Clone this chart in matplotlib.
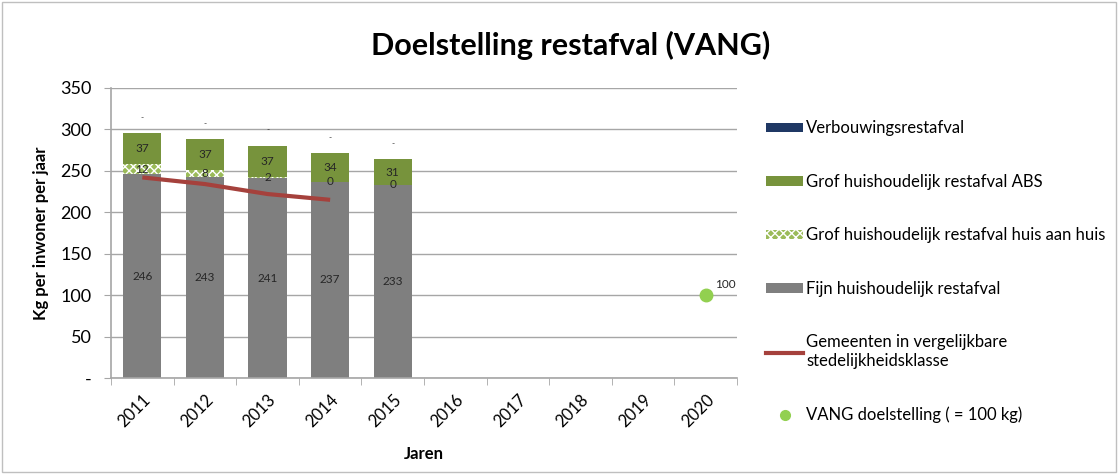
import numpy as np
import matplotlib.pyplot as plt
from matplotlib.patches import Patch, Rectangle
from matplotlib.lines import Line2D

plt.rcParams['font.family'] = ['Lato', 'DejaVu Sans']
plt.rcParams['hatch.linewidth'] = 1.0

# data
jaren = ['2011', '2012', '2013', '2014', '2015', '2016', '2017', '2018', '2019', '2020']
fijn = [246, 243, 241, 237, 233]
huis = [12, 8, 2, 0, 0]
abs_ = [37, 37, 37, 34, 31]
verbouw = [0, 0, 0, 0, 0]
gemeenten = [242, 234, 222, 215]
vang_jaar = '2020'
vang_waarde = 100

c_fijn = '#7f7f7f'
c_abs = '#77933c'
c_huis = '#9bbb59'
c_verb = '#1f3864'
c_lijn = '#a5413c'
c_vang = '#92d050'

fig = plt.figure(figsize=(11.18, 4.75), dpi=100)
ax = fig.add_axes([0.0993, 0.204, 0.560, 0.611])

x = np.arange(len(jaren))
n = len(fijn)
w = 0.61

# stacked bars
ax.bar(x[:n], fijn, w, color=c_fijn, zorder=2)
b_huis = np.array(fijn)
ax.bar(x[:n], huis, w, bottom=b_huis, color=c_huis, hatch='xxxx', edgecolor='white', linewidth=0, zorder=2)
b_abs = b_huis + np.array(huis)
ax.bar(x[:n], abs_, w, bottom=b_abs, color=c_abs, zorder=2)
b_verb = b_abs + np.array(abs_)
ax.bar(x[:n], verbouw, w, bottom=b_verb, color=c_verb, zorder=2)

# labels in de balken
fs = 8.5
for i in range(n):
    ax.text(x[i], fijn[i] / 2, str(fijn[i]), ha='center', va='center', fontsize=fs, color='#262626', zorder=4)
    ax.text(x[i], b_huis[i] + huis[i] / 2, str(huis[i]), ha='center', va='center', fontsize=fs, color='#262626', zorder=4)
    ax.text(x[i], b_abs[i] + abs_[i] / 2, str(abs_[i]), ha='center', va='center', fontsize=fs, color='#262626', zorder=4)
    ax.text(x[i], b_verb[i] + 19, '-', ha='center', va='center', fontsize=6, color='#262626', zorder=4)

# lijn gemeenten
ax.plot(x[:len(gemeenten)], gemeenten, color=c_lijn, linewidth=3, zorder=3, solid_capstyle='butt')

# VANG doelstelling
xv = jaren.index(vang_jaar)
ax.plot(xv, vang_waarde, 'o', color=c_vang, markersize=9, zorder=4)
ax.text(xv + 0.15, vang_waarde + 6, str(vang_waarde), fontsize=fs, color='#262626', va='bottom')

# assen
ax.set_xlim(-0.5, len(jaren) - 0.5)
ax.set_ylim(0, 350)
ax.set_yticks(np.arange(0, 351, 50))
ax.set_yticklabels(['-'] + [str(v) for v in range(50, 351, 50)], fontsize=13)
ax.set_xticks(x)
ax.set_xticklabels(jaren, rotation=45, fontsize=12, ha='right', rotation_mode='anchor')
ax.set_xticks(np.arange(-0.5, len(jaren), 1), minor=True)
ax.tick_params(axis='x', which='major', length=0, pad=10)
ax.tick_params(axis='x', which='minor', length=5, color='#a6a6a6')
ax.tick_params(axis='y', length=5, color='#a6a6a6', pad=9)
ax.grid(axis='y', color='#a6a6a6', linewidth=1, zorder=0)
ax.set_axisbelow(True)
for s in ['top', 'right']:
    ax.spines[s].set_visible(False)
for s in ['left', 'bottom']:
    ax.spines[s].set_color('#a6a6a6')
    ax.spines[s].set_linewidth(1.2)

ax.set_xlabel('Jaren', fontsize=12, fontweight='bold', labelpad=11)
ax.set_ylabel('Kg per inwoner per jaar', fontsize=12, fontweight='bold', labelpad=8)
fig.text(0.51, 0.905, 'Doelstelling restafval (VANG)', ha='center', va='center', fontsize=22, fontweight='bold')

# legenda
handles = [
    Patch(facecolor=c_verb),
    Patch(facecolor=c_abs),
    Patch(facecolor=c_huis, hatch='xxxx', edgecolor='white', linewidth=0),
    Patch(facecolor=c_fijn),
    Line2D([], [], color=c_lijn, linewidth=3),
    Line2D([], [], marker='o', linestyle='none', color=c_vang, markersize=7),
]
labels = ['Verbouwingsrestafval', 'Grof huishoudelijk restafval ABS',
          'Grof huishoudelijk restafval huis aan huis', 'Fijn huishoudelijk restafval',
          'Gemeenten in vergelijkbare\nstedelijkheidsklasse', 'VANG doelstelling ( = 100 kg)']
fig.legend(handles, labels, loc='upper left', bbox_to_anchor=(0.672, 0.778), frameon=False,
           fontsize=12, labelspacing=2.25, handlelength=2.2, handletextpad=0.2, handleheight=0.5)

fig.add_artist(Rectangle((0.002, 0.006), 0.996, 0.99, transform=fig.transFigure, fill=False,
                         edgecolor='#bfbfbf', linewidth=1))

fig.savefig('out.png', dpi=100)
